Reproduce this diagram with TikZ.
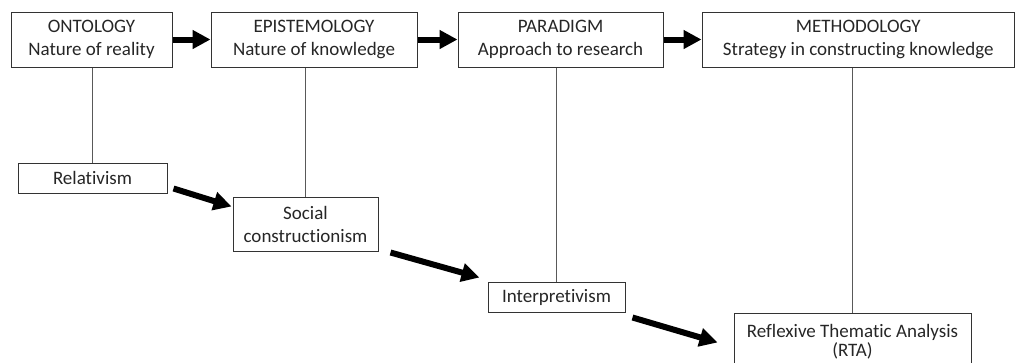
\documentclass[tikz,border=0pt]{standalone}
\usepackage{fontspec}
\setmainfont{Carlito}[Ligatures=NoCommon]
\usetikzlibrary{arrows.meta,calc}
\begin{document}
\begin{tikzpicture}[x=0.75pt,y=-0.75pt,
  box/.style={draw=black!80, line width=0.75pt, rectangle, inner sep=0pt,
    align=center, text=black!85,
    font=\fontsize{14.25pt}{17.25pt}\selectfont},
  link/.style={draw=black!65, line width=0.75pt},
  bigarrow/.style={line width=4.5pt, black,
    -{Triangle[length=13.5pt,width=13.5pt]}}]
\useasboundingbox (0,0) rectangle (1016,362);
\clip (0,0) rectangle (1016,362);

% top row: philosophical levels
\node[box, minimum width=120.75pt, minimum height=41.25pt] (onto) at (91.5,39.5)
  {ONTOLOGY\\Nature of reality};
\node[box, minimum width=154.5pt, minimum height=41.25pt] (epi) at (314,39.5)
  {EPISTEMOLOGY\\Nature of knowledge};
\node[box, minimum width=153.75pt, minimum height=41.25pt] (para) at (560.5,39.5)
  {PARADIGM\\Approach to research};
\node[box, minimum width=234.375pt, minimum height=41.25pt] (meth) at (858.25,39.5)
  {METHODOLOGY\\Strategy in constructing knowledge};

% positions taken at each level
\node[box, minimum width=111.75pt, minimum height=22.5pt] (rel) at (92.5,178)
  {Relativism};
\node[box, minimum width=108.75pt, minimum height=40.5pt] (soc) at (305.5,224)
  {Social\\constructionism};
\node[box, minimum width=102.75pt, minimum height=22.5pt] (interp) at (556.5,297)
  {Interpretivism};
\node[box, minimum width=177.75pt, minimum height=42.75pt,
  font=\fontsize{14.25pt}{14.25pt}\selectfont] (rta) at (852.5,341.5)
  {Reflexive Thematic Analysis\\(RTA)};

% links from each level to its position
\draw[link] (rel.north) -- (rel.north |- onto.south);
\draw[link] (soc.north) -- (soc.north |- epi.south);
\draw[link] (interp.north) -- (interp.north |- para.south);
\draw[link] (rta.north) -- (rta.north |- meth.south);

% sequence along the top row
\draw[bigarrow] (onto.east) -- (epi.west);
\draw[bigarrow] (epi.east) -- (para.west);
\draw[bigarrow] (para.east) -- (meth.west);

% sequence down the positions
\coordinate (a1) at ($(rel.south east)+(6,-5)$);
\coordinate (a2) at ($(soc.north west)+(-1,10)$);
\coordinate (b1) at ($(soc.south east)+(12,1)$);
\coordinate (b2) at ($(interp.north west)+(-8,-4)$);
\coordinate (c1) at ($(interp.south east)+(7,5)$);
\coordinate (c2) at ($(rta.north west)+(-16,30)$);
\draw[bigarrow] (a1) -- (a2);
\draw[bigarrow] (b1) -- (b2);
\draw[bigarrow] (c1) -- (c2);
\end{tikzpicture}
\end{document}
